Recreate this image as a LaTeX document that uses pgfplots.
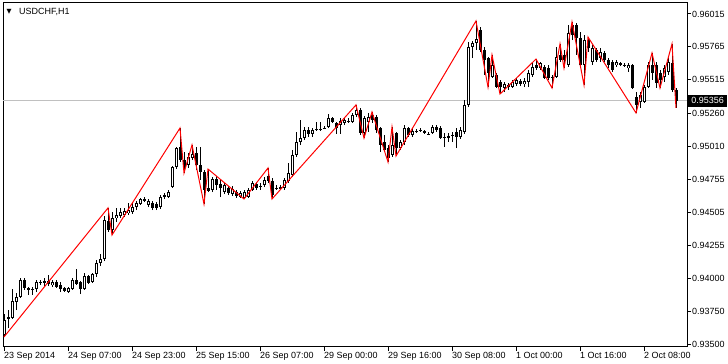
\documentclass[border=0pt]{standalone}
\usepackage{pgfplots}
\usepackage{pgfplotstable}
\pgfplotsset{compat=1.18}
\usepackage{fontspec}
\setmainfont{Liberation Sans}
\newfontfamily\dejavu{DejaVu Sans}
\definecolor{bidgray}{RGB}{192,192,192}

\pgfplotstableread{
i o h l c
0 0.93572 0.93732 0.93557 0.93686
1 0.93694 0.93762 0.93625 0.93709
2 0.93702 0.93922 0.93694 0.93831
3 0.93823 0.93892 0.93762 0.93861
4 0.93861 0.94006 0.93854 0.93991
5 0.93991 0.94006 0.93915 0.93930
6 0.93930 0.93937 0.93877 0.93915
7 0.93918 0.93937 0.93877 0.93922
8 0.93922 0.93991 0.93899 0.93976
9 0.93972 0.93991 0.93953 0.93976
10 0.93976 0.94006 0.93945 0.93983
11 0.93983 0.94029 0.93945 0.93960
12 0.93953 0.93991 0.93937 0.93976
13 0.93976 0.93991 0.93930 0.93937
14 0.93953 0.93976 0.93899 0.93922
15 0.93930 0.93937 0.93899 0.93907
16 0.93899 0.93937 0.93892 0.93930
17 0.93922 0.94006 0.93915 0.93991
18 0.93991 0.94074 0.93953 0.93960
19 0.93976 0.93983 0.93884 0.93922
20 0.93922 0.94044 0.93915 0.94021
21 0.94021 0.94029 0.93960 0.93968
22 0.93976 0.94044 0.93968 0.94036
23 0.94036 0.94143 0.94014 0.94120
24 0.94120 0.94189 0.94097 0.94151
25 0.94151 0.94478 0.94135 0.94447
26 0.94440 0.94539 0.94356 0.94371
27 0.94371 0.94508 0.94333 0.94463
28 0.94463 0.94539 0.94432 0.94485
29 0.94478 0.94539 0.94463 0.94508
30 0.94485 0.94539 0.94470 0.94516
31 0.94501 0.94577 0.94485 0.94523
32 0.94508 0.94584 0.94493 0.94546
33 0.94546 0.94592 0.94523 0.94577
34 0.94569 0.94615 0.94562 0.94607
35 0.94607 0.94622 0.94584 0.94592
36 0.94562 0.94607 0.94546 0.94592
37 0.94577 0.94592 0.94523 0.94539
38 0.94569 0.94584 0.94523 0.94539
39 0.94546 0.94638 0.94531 0.94622
40 0.94622 0.94653 0.94607 0.94638
41 0.94622 0.94676 0.94615 0.94660
42 0.94698 0.94858 0.94691 0.94851
43 0.94851 0.95003 0.94835 0.94995
44 0.95003 0.95147 0.94889 0.94904
45 0.94904 0.94965 0.94805 0.94851
46 0.94866 0.94957 0.94843 0.94927
47 0.94919 0.95018 0.94904 0.94950
48 0.94957 0.95003 0.94828 0.94866
49 0.94866 0.95003 0.94752 0.94813
50 0.94813 0.94828 0.94569 0.94676
51 0.94691 0.94835 0.94660 0.94668
52 0.94676 0.94775 0.94660 0.94759
53 0.94759 0.94782 0.94676 0.94714
54 0.94721 0.94752 0.94622 0.94691
55 0.94660 0.94729 0.94645 0.94714
56 0.94691 0.94706 0.94638 0.94653
57 0.94645 0.94706 0.94630 0.94683
58 0.94660 0.94676 0.94615 0.94630
59 0.94622 0.94668 0.94615 0.94653
60 0.94615 0.94676 0.94607 0.94660
61 0.94622 0.94691 0.94615 0.94676
62 0.94676 0.94744 0.94668 0.94729
63 0.94721 0.94737 0.94676 0.94691
64 0.94706 0.94729 0.94676 0.94702
65 0.94714 0.94775 0.94698 0.94752
66 0.94782 0.94843 0.94729 0.94744
67 0.94744 0.94767 0.94607 0.94638
68 0.94687 0.94714 0.94676 0.94691
69 0.94691 0.94714 0.94676 0.94695
70 0.94691 0.94767 0.94676 0.94752
71 0.94744 0.94881 0.94729 0.94805
72 0.94790 0.94980 0.94775 0.94942
73 0.94942 0.95117 0.94927 0.95041
74 0.95041 0.95208 0.95018 0.95071
75 0.95071 0.95155 0.95056 0.95132
76 0.95132 0.95155 0.95079 0.95102
77 0.95102 0.95147 0.95079 0.95132
78 0.95136 0.95193 0.95125 0.95140
79 0.95140 0.95193 0.95125 0.95136
80 0.95144 0.95163 0.95140 0.95147
81 0.95155 0.95254 0.95147 0.95224
82 0.95224 0.95231 0.95186 0.95193
83 0.95186 0.95193 0.95102 0.95147
84 0.95170 0.95224 0.95102 0.95201
85 0.95186 0.95224 0.95170 0.95208
86 0.95201 0.95224 0.95186 0.95197
87 0.95193 0.95262 0.95186 0.95246
88 0.95246 0.95323 0.95231 0.95284
89 0.95284 0.95300 0.95094 0.95109
90 0.95109 0.95239 0.95071 0.95224
91 0.95193 0.95262 0.95117 0.95231
92 0.95246 0.95269 0.95186 0.95208
93 0.95231 0.95246 0.95109 0.95132
94 0.95147 0.95155 0.94965 0.95018
95 0.95041 0.95094 0.94965 0.94980
96 0.94995 0.95018 0.94889 0.94919
97 0.94942 0.95155 0.94927 0.95018
98 0.95109 0.95117 0.94934 0.94995
99 0.94995 0.95056 0.94980 0.95041
100 0.95041 0.95170 0.95018 0.95147
101 0.95147 0.95155 0.95079 0.95094
102 0.95094 0.95147 0.95079 0.95125
103 0.95121 0.95140 0.95109 0.95125
104 0.95132 0.95147 0.95117 0.95128
105 0.95125 0.95132 0.95102 0.95109
106 0.95102 0.95117 0.95094 0.95098
107 0.95109 0.95170 0.95102 0.95155
108 0.95155 0.95170 0.95117 0.95132
109 0.95147 0.95163 0.95064 0.95071
110 0.95079 0.95109 0.95003 0.95075
111 0.95079 0.95109 0.95041 0.95083
112 0.95094 0.95117 0.95041 0.95090
113 0.95117 0.95147 0.94995 0.95079
114 0.95079 0.95155 0.95064 0.95132
115 0.95117 0.95361 0.95102 0.95323
116 0.95323 0.95802 0.95307 0.95764
117 0.95764 0.95810 0.95680 0.95794
118 0.95794 0.95962 0.95741 0.95825
119 0.95893 0.95916 0.95726 0.95741
120 0.95741 0.95764 0.95551 0.95665
121 0.95680 0.95688 0.95459 0.95566
122 0.95536 0.95703 0.95528 0.95627
123 0.95551 0.95566 0.95452 0.95459
124 0.95498 0.95513 0.95406 0.95459
125 0.95452 0.95498 0.95421 0.95482
126 0.95467 0.95490 0.95437 0.95471
127 0.95459 0.95513 0.95452 0.95498
128 0.95482 0.95528 0.95467 0.95513
129 0.95505 0.95520 0.95467 0.95482
130 0.95482 0.95528 0.95459 0.95505
131 0.95498 0.95589 0.95459 0.95566
132 0.95551 0.95642 0.95536 0.95612
133 0.95627 0.95672 0.95589 0.95604
134 0.95604 0.95650 0.95589 0.95642
135 0.95612 0.95627 0.95520 0.95528
136 0.95604 0.95627 0.95513 0.95528
137 0.95536 0.95551 0.95452 0.95532
138 0.95536 0.95764 0.95528 0.95688
139 0.95703 0.95787 0.95650 0.95665
140 0.95703 0.95741 0.95604 0.95665
141 0.95627 0.95931 0.95612 0.95870
142 0.95931 0.95954 0.95817 0.95855
143 0.95931 0.95946 0.95703 0.95832
144 0.95832 0.95878 0.95604 0.95627
145 0.95627 0.95855 0.95475 0.95817
146 0.95817 0.95840 0.95726 0.95756
147 0.95650 0.95779 0.95627 0.95756
148 0.95741 0.95756 0.95650 0.95665
149 0.95680 0.95756 0.95650 0.95726
150 0.95718 0.95733 0.95650 0.95665
151 0.95665 0.95680 0.95604 0.95627
152 0.95650 0.95665 0.95574 0.95589
153 0.95627 0.95665 0.95612 0.95650
154 0.95642 0.95650 0.95619 0.95627
155 0.95627 0.95642 0.95612 0.95623
156 0.95604 0.95642 0.95574 0.95627
157 0.95627 0.95635 0.95444 0.95452
158 0.95383 0.95421 0.95262 0.95323
159 0.95345 0.95421 0.95300 0.95399
160 0.95345 0.95475 0.95338 0.95459
161 0.95459 0.95650 0.95452 0.95627
162 0.95627 0.95718 0.95513 0.95566
163 0.95627 0.95650 0.95452 0.95490
164 0.95566 0.95589 0.95452 0.95513
165 0.95536 0.95627 0.95498 0.95604
166 0.95574 0.95680 0.95551 0.95650
167 0.95642 0.95787 0.95421 0.95437
168 0.95437 0.95452 0.95300 0.95356
}\candles

\pgfplotstableread{
x y
0 0.93557
26 0.94539
27 0.94333
44 0.95147
45 0.94805
47 0.95018
50 0.94569
51 0.94835
60 0.94607
66 0.94843
67 0.94607
88 0.95323
90 0.95071
92 0.95269
96 0.94889
97 0.95155
98 0.94934
118 0.95962
121 0.95459
122 0.95703
124 0.95406
133 0.95672
137 0.95452
139 0.95787
140 0.95604
142 0.95954
145 0.95475
146 0.95840
158 0.95262
162 0.95718
164 0.95452
167 0.95787
168 0.95300
}\zigzag

\begin{document}
\begin{tikzpicture}
\useasboundingbox (-3bp,-17bp) rectangle (725bp,347bp);
\begin{axis}[
  at={(0,0)}, anchor=south west,
  scale only axis, width=684bp, height=344bp,
  xmin=-0.25, xmax=170.75,
  ymin=0.934808, ymax=0.960987,
  axis line style={black, line width=1bp},
  tick align=outside, major tick length=4bp,
  tick style={black, line width=1bp},
  xtick pos=bottom, ytick pos=right,
  yticklabel pos=right,
  xtick={0,16,32,48,64,80,96,112,128,144,160},
  xticklabels={23 Sep 2014,24 Sep 07:00,24 Sep 23:00,25 Sep 15:00,26 Sep 07:00,29 Sep 00:00,29 Sep 16:00,30 Sep 08:00,1 Oct 00:00,1 Oct 16:00,2 Oct 08:00},
  ytick={0.935,0.9375,0.94,0.94255,0.94505,0.94755,0.9501,0.9526,0.95515,0.95765,0.96015},
  yticklabels={0.93500,0.93750,0.94000,0.94255,0.94505,0.94755,0.95010,0.95260,0.95515,0.95765,0.96015},
  ticklabel style={font=\fontsize{9}{10}\selectfont, text=black},
  xticklabel style={anchor=north west, inner sep=0pt, yshift=-1bp},
  yticklabel style={anchor=west, inner sep=0pt, xshift=1bp},
  minor tick num=0,
]
% bid line
\addplot[bidgray, line width=1bp, forget plot] coordinates {(-0.25,0.95356) (170.75,0.95356)};
% wicks
\addplot[draw=none, mark=none, forget plot,
  error bars/.cd, y dir=plus, y explicit, error mark=none,
  error bar style={draw=black, line width=1bp, solid}]
  table[x=i, y=l, y error expr={\thisrow{h}-\thisrow{l}}] {\candles};
% bodies
\addplot[draw=none, mark=none, forget plot,
  error bars/.cd, y dir=both, y explicit, error mark=none,
  error bar style={draw=black, line width=3bp, solid}]
  table[x=i, y expr={(\thisrow{o}+\thisrow{c})/2},
        y error expr={max(abs(\thisrow{o}-\thisrow{c})/2,0.00004)}] {\candles};
% white interiors of up candles
\addplot[draw=none, mark=none, forget plot,
  error bars/.cd, y dir=both, y explicit, error mark=none,
  error bar style={draw=white, line width=1bp, solid}]
  table[x=i, y expr={ifthenelse(\thisrow{c}-\thisrow{o}>0.00016,(\thisrow{o}+\thisrow{c})/2,0.93)},
        y error expr={ifthenelse(\thisrow{c}-\thisrow{o}>0.00016,(\thisrow{c}-\thisrow{o})/2-0.000076,0)}] {\candles};
% zigzag
\addplot[red, line width=1bp, forget plot] table[x=x, y=y] {\zigzag};
\coordinate (pricept) at (axis cs:170.75,0.95356);
\end{axis}
\node[anchor=west, fill=black, text=white, inner xsep=3.25bp, inner ysep=0pt,
      minimum height=12bp, font=\fontsize{9}{10}\selectfont, xshift=1bp] at (pricept) {0.95356};
\node[anchor=west, inner sep=0pt, font=\dejavu\fontsize{6.5}{7}\selectfont] at (3.5bp,335.3bp) {▼};
\node[anchor=west, inner sep=0pt, font=\fontsize{9}{10}\selectfont] at (16bp,335bp) {USDCHF,H1};
\end{tikzpicture}
\end{document}
